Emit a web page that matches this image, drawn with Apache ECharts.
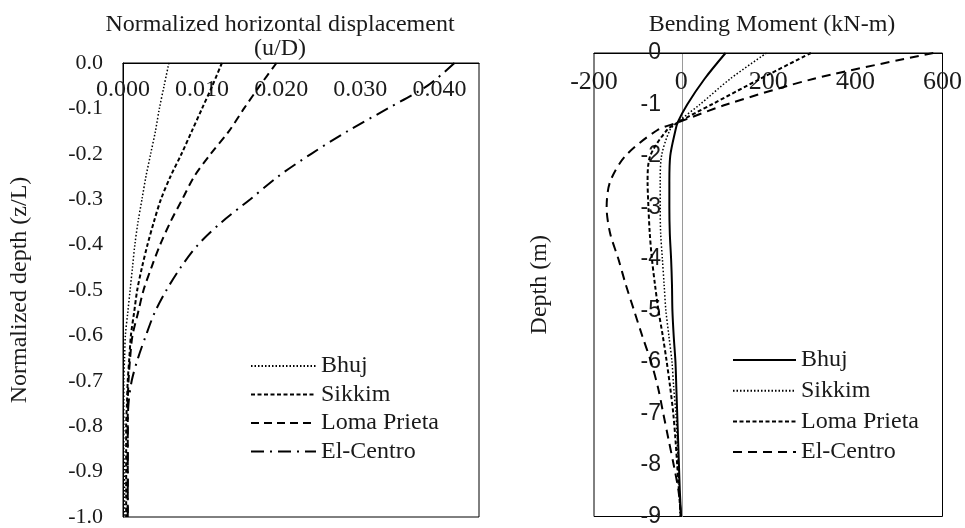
<!DOCTYPE html>
<html>
<head>
<meta charset="utf-8">
<script src="https://cdn.jsdelivr.net/npm/echarts@6/dist/echarts.min.js"></script>
<style>
html,body{margin:0;padding:0;background:#fff;}
#chart{width:965px;height:528px;}
</style>
</head>
<body>
<div id="chart"></div>
<script>
// ---------- Left panel: normalized horizontal displacement ----------
const leftDepth = [0, -0.05, -0.1, -0.15, -0.2, -0.25, -0.3, -0.35, -0.4, -0.45, -0.5, -0.55, -0.6, -0.65, -0.7, -0.75, -0.8, -0.85, -0.9, -0.95, -1.0];
const leftBhuj = [0.0058, 0.0052, 0.0046, 0.0041, 0.0035, 0.0029, 0.0024, 0.0019, 0.0015, 0.0012, 0.0009, 0.0006, 0.0003, 0.0002, 0.0001, 0.0001, 0.0001, 0.0001, 0.0002, 0.0002, 0.0002];
const leftSikkim = [0.0125, 0.0113, 0.0100, 0.0087, 0.0074, 0.0060, 0.0048, 0.0039, 0.0031, 0.0024, 0.0018, 0.0014, 0.0010, 0.0008, 0.0006, 0.0005, 0.0004, 0.0004, 0.0004, 0.0004, 0.0004];
const leftLoma = [0.0194, 0.0173, 0.0153, 0.0134, 0.0111, 0.0090, 0.0075, 0.0060, 0.0047, 0.0036, 0.0026, 0.0019, 0.0012, 0.0009, 0.0007, 0.0006, 0.0006, 0.0006, 0.0006, 0.0006, 0.0006];
const leftElCentro = [0.0419, 0.0385, 0.0335, 0.0284, 0.0238, 0.0196, 0.0161, 0.0125, 0.0095, 0.0073, 0.0055, 0.0040, 0.0029, 0.0019, 0.0011, 0.0007, 0.0006, 0.0006, 0.0006, 0.0006, 0.0006];

// ---------- Right panel: bending moment ----------
const rightDepth = [0, -0.5, -1, -1.35, -1.5, -2, -2.5, -3, -3.5, -4, -4.5, -5, -5.5, -6, -6.5, -7, -7.5, -8, -8.5, -9];
const rightBhuj = [102, 54, 14, -8, -13, -25, -27, -27, -26, -23, -21, -20, -17, -13, -11, -9, -7, -5, -3, 0];
const rightSikkim = [196, 113, 43, -9, -26, -45, -48, -48, -47, -43, -39, -35, -28, -21, -17, -12, -9, -7, -4, -2];
const rightLoma = [298, 182, 70, -8, -33, -71, -77, -75, -72, -67, -60, -52, -42, -33, -25, -18, -13, -9, -5, -1];
const rightElCentro = [579, 305, 104, -8, -55, -128, -163, -171, -163, -144, -127, -108, -89, -69, -53, -41, -29, -17, -6, 0];

const seriesNames = ['Bhuj', 'Sikkim', 'Loma Prieta', 'El-Centro'];
const leftTitle = 'Normalized horizontal displacement\n(u/D)';
const rightTitle = 'Bending Moment (kN-m)';
const leftYName = 'Normalized depth (z/L)';
const rightYName = 'Depth (m)';

const SERIF = '"Liberation Serif", "Times New Roman", serif';
const SANS = '"Liberation Sans", Arial, sans-serif';
const INK = '#1a1a1a';

function pairs(xs, ys) { return ys.map((d, i) => [xs[i], d]); }

const leftStyles = [
  { type: [1.5, 2], width: 1.5 },
  { type: [4, 2.5], width: 2 },
  { type: [8, 5], width: 2 },
  { type: [13, 6, 2, 6], width: 2 }
];
const rightStyles = [
  { type: 'solid', width: 2 },
  { type: [1.5, 2], width: 1.5 },
  { type: [4, 2.5], width: 2 },
  { type: [9, 6], width: 2 }
];
const leftData = [leftBhuj, leftSikkim, leftLoma, leftElCentro];
const rightData = [rightBhuj, rightSikkim, rightLoma, rightElCentro];

const series = [];
seriesNames.forEach((n, i) => {
  series.push({
    name: n, type: 'line', xAxisIndex: 0, yAxisIndex: 0,
    data: pairs(leftData[i], leftDepth),
    smooth: 0.3, symbol: 'none',
    lineStyle: { color: '#000', width: leftStyles[i].width, type: leftStyles[i].type },
    itemStyle: { color: '#000' }
  });
});
seriesNames.forEach((n, i) => {
  series.push({
    name: 'R:' + n, type: 'line', xAxisIndex: 1, yAxisIndex: 1,
    data: pairs(rightData[i], rightDepth),
    smooth: 0.3, symbol: 'none',
    lineStyle: { color: '#000', width: rightStyles[i].width, type: rightStyles[i].type },
    itemStyle: { color: '#000' }
  });
});

const chart = echarts.init(document.getElementById('chart'), null, { renderer: 'canvas' });
chart.setOption({
  animation: false,
  backgroundColor: '#fff',
  title: [
    { text: leftTitle, left: 280, top: 13, textAlign: 'center', padding: 0,
      textStyle: { fontFamily: SERIF, fontSize: 24, fontWeight: 'normal', color: INK, lineHeight: 24 } },
    { text: rightTitle, left: 772, top: 13, textAlign: 'center', padding: 0,
      textStyle: { fontFamily: SERIF, fontSize: 24, fontWeight: 'normal', color: INK, lineHeight: 24 } }
  ],
  legend: [
    { data: seriesNames, orient: 'vertical', left: 250, top: 354, padding: 0,
      itemWidth: 65, itemHeight: 12, itemGap: 4.5,
      itemStyle: { opacity: 0 },
      textStyle: { fontFamily: SERIF, fontSize: 24, color: INK, lineHeight: 24 } },
    { data: seriesNames.map(n => 'R:' + n), orient: 'vertical', left: 732, top: 348, padding: 0,
      itemWidth: 63, itemHeight: 12, itemGap: 6.7,
      itemStyle: { opacity: 0 },
      formatter: n => n.slice(2),
      textStyle: { fontFamily: SERIF, fontSize: 24, color: INK, lineHeight: 24 } }
  ],
  grid: [
    { left: 123, top: 63, width: 356, height: 456, show: true, borderColor: '#000', borderWidth: 1, containLabel: false },
    { left: 594, top: 53, width: 352, height: 467, show: true, borderColor: '#000', borderWidth: 1, containLabel: false }
  ],
  xAxis: [
    { type: 'value', gridIndex: 0, min: 0, max: 0.045, interval: 0.01, position: 'top',
      axisLine: { onZero: false, lineStyle: { color: '#000', width: 1 } },
      axisTick: { show: false }, splitLine: { show: false },
      axisLabel: { inside: true, showMaxLabel: false, margin: 15, formatter: v => v.toFixed(3),
        fontFamily: SERIF, fontSize: 24, color: INK } },
    { type: 'value', gridIndex: 1, min: -200, max: 600, interval: 200, position: 'top',
      axisLine: { onZero: false, lineStyle: { color: '#000', width: 1 } },
      axisTick: { show: false }, splitLine: { show: false },
      axisLabel: { inside: true, margin: 16, fontFamily: SERIF, fontSize: 26, color: INK } }
  ],
  yAxis: [
    { type: 'value', gridIndex: 0, min: -1, max: 0, interval: 0.1, position: 'left',
      name: leftYName, nameLocation: 'middle', nameGap: 91,
      nameTextStyle: { fontFamily: SERIF, fontSize: 24, color: INK },
      axisLine: { onZero: false, lineStyle: { color: '#000', width: 1 } },
      axisTick: { show: false }, splitLine: { show: false },
      axisLabel: { margin: 20, formatter: v => v.toFixed(1), fontFamily: SERIF, fontSize: 22, color: INK } },
    { type: 'value', gridIndex: 1, min: -9, max: 0, interval: 1, position: 'left', offset: -88,
      name: rightYName, nameLocation: 'middle', nameGap: 130,
      nameTextStyle: { fontFamily: SERIF, fontSize: 24, color: INK },
      axisLine: { onZero: false, lineStyle: { color: '#9a9a9a', width: 1 } },
      axisTick: { show: false }, splitLine: { show: false },
      axisLabel: { margin: 21, fontFamily: SANS, fontSize: 23, color: INK } }
  ],
  series: series
});
</script>
</body>
</html>
